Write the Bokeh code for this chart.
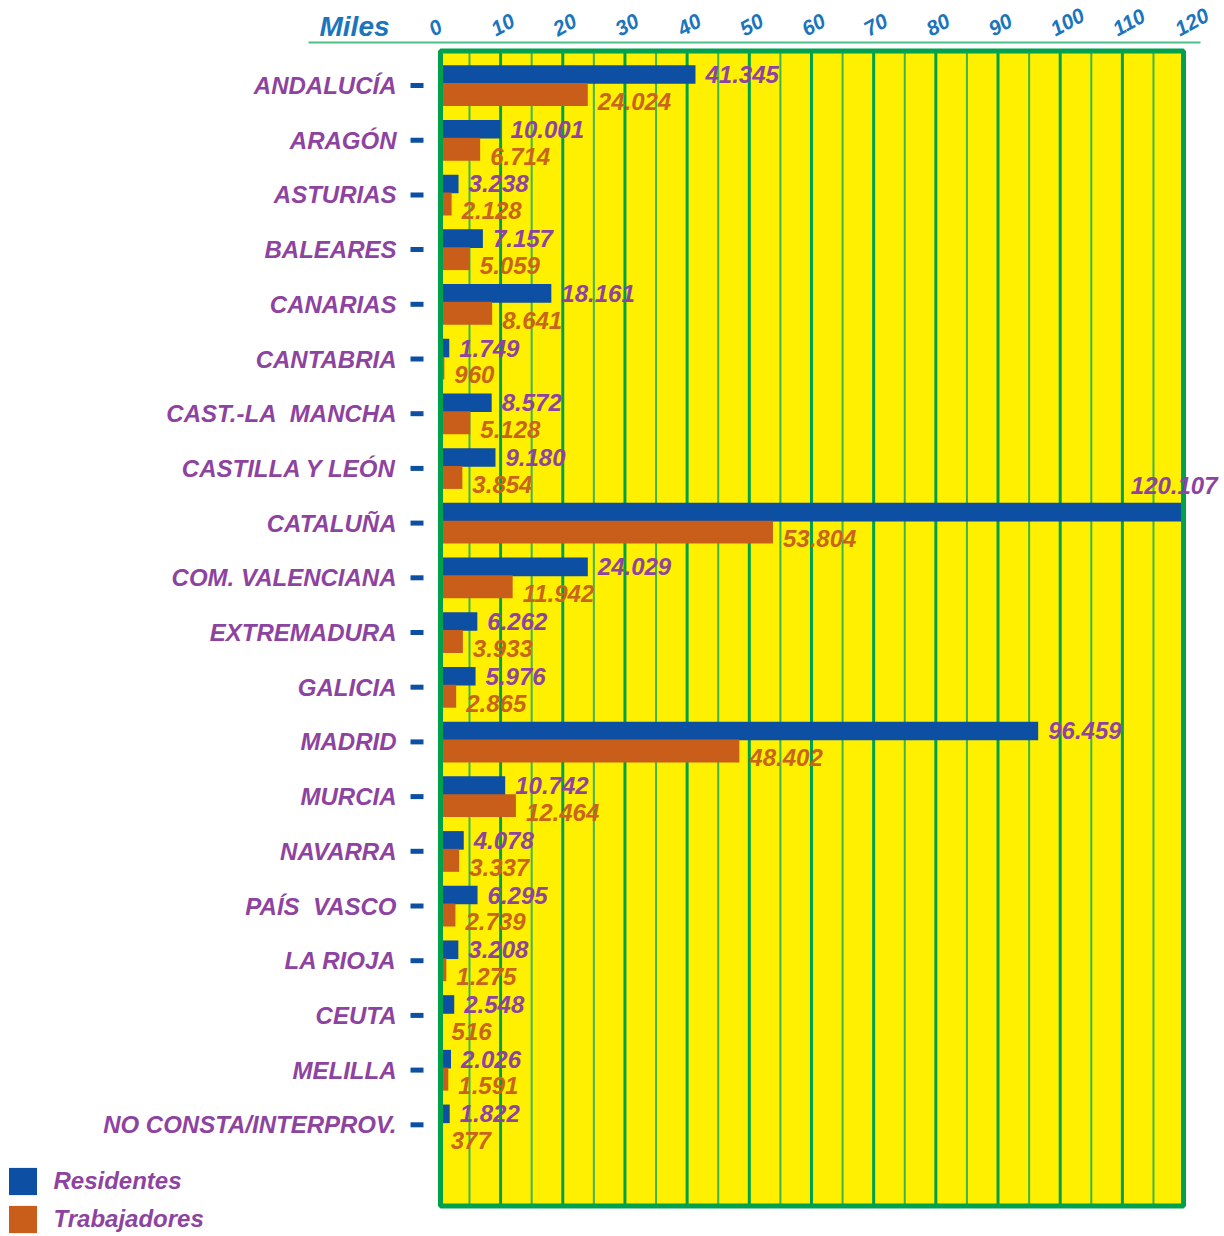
from bokeh.plotting import figure
from bokeh.models import Range1d, ColumnDataSource, Legend, LegendItem
from bokeh.core.properties import value
from bokeh.embed import file_html
from bokeh.resources import INLINE

# ---------------- data ----------------
regions = ["ANDALUCÍA", "ARAGÓN", "ASTURIAS", "BALEARES", "CANARIAS", "CANTABRIA",
           "CAST.-LA\u00a0\u00a0MANCHA", "CASTILLA Y LEÓN", "CATALUÑA", "COM. VALENCIANA",
           "EXTREMADURA", "GALICIA", "MADRID", "MURCIA", "NAVARRA", "PAÍS\u00a0\u00a0VASCO",
           "LA RIOJA", "CEUTA", "MELILLA", "NO CONSTA/INTERPROV."]
residentes = [41345, 10001, 3238, 7157, 18161, 1749, 8572, 9180, 120107, 24029,
              6262, 5976, 96459, 10742, 4078, 6295, 3208, 2548, 2026, 1822]
trabajadores = [24024, 6714, 2128, 5059, 8641, 960, 5128, 3854, 53804, 11942,
                3933, 2865, 48402, 12464, 3337, 2739, 1275, 516, 1591, 377]
x_ticks = [0, 10, 20, 30, 40, 50, 60, 70, 80, 90, 100, 110, 120]
series_names = ["Residentes", "Trabajadores"]
axis_title = "Miles"

# ---------------- style ----------------
FONT = value("Liberation Sans")
BLUE = "#0D4FA2"
ORANGE = "#C85E1A"
YELLOW = "#FFF000"
PURPLE = "#8D43A0"
ORANGE_TXT = "#C8641C"
AXIS_BLUE = "#1B75BC"
DARK_GREEN = "#00A14B"
LIGHT_GREEN = "#3DB54A"
LINE_GREEN = "#4DBF86"

W, H = 1224, 1236
X_PX0, X_SCALE = 437.9, 6.218      # pixel of value 0, pixels per thousand
Y_PX0, Y_SCALE = 85.0, 54.7        # pixel of first row, pixels per row
X_MAX = x_ticks[-1]


def px_to_x(px):
    return (px - X_PX0) / X_SCALE


def px_to_y(py):
    return (py - Y_PX0) / Y_SCALE


def fmt(n):
    return f"{n:,}".replace(",", ".")


idx = list(range(len(regions)))
res_k = [v / 1000 for v in residentes]
tra_k = [v / 1000 for v in trabajadores]

p = figure(width=W, height=H, output_backend="svg", toolbar_location=None,
           x_range=Range1d(px_to_x(0), px_to_x(W)),
           y_range=Range1d(px_to_y(H), px_to_y(0)),
           min_border=0, min_border_left=0, min_border_right=0,
           min_border_top=0, min_border_bottom=0)
p.xaxis.visible = False
p.yaxis.visible = False
p.grid.visible = False
p.outline_line_color = None
p.background_fill_color = "white"
p.border_fill_color = "white"

# plot panel
P_LEFT, P_RIGHT = px_to_x(440), px_to_x(1183)
P_TOP, P_BOTTOM = px_to_y(50.5), px_to_y(1205.5)
p.quad(left=[P_LEFT], right=[P_RIGHT], top=[P_TOP], bottom=[P_BOTTOM],
       fill_color=YELLOW, line_color=None)

# grid lines: thick at tens, thin at fives
thick = x_ticks[1:-1]
thin_ = [t + 5 for t in x_ticks[:-1]]
p.segment(x0=thin_, x1=thin_, y0=[P_TOP] * len(thin_), y1=[P_BOTTOM] * len(thin_),
          line_color=LIGHT_GREEN, line_width=2)
p.segment(x0=thick, x1=thick, y0=[P_TOP] * len(thick), y1=[P_BOTTOM] * len(thick),
          line_color=DARK_GREEN, line_width=3)

# bars
src = ColumnDataSource(dict(
    y_res=[i - 0.2 for i in idx],
    y_tra=[i + 0.165 for i in idx],
    res=res_k, tra=tra_k,
))
r_res = p.hbar(y="y_res", left=0, right="res", height=0.34, fill_color=BLUE,
               line_color=None, source=src)
r_tra = p.hbar(y="y_tra", left=0, right="tra", height=0.42, fill_color=ORANGE,
               line_color=None, source=src)

# panel border on top of bars
p.quad(left=[P_LEFT], right=[P_RIGHT], top=[P_TOP], bottom=[P_BOTTOM],
       fill_color=None, line_color=DARK_GREEN, line_width=5)

# value labels
common = dict(text_font=FONT, text_font_style="bold italic",
              text_font_size="24px", text_baseline="middle")
in_res = [i for i in idx if res_k[i] <= X_MAX]
out_res = [i for i in idx if res_k[i] > X_MAX]
p.text(x=[res_k[i] for i in in_res], y=[i - 0.2 for i in in_res],
       text=[fmt(residentes[i]) for i in in_res], x_offset=10,
       text_align="left", text_color=PURPLE, **common)
p.text(x=[X_MAX for i in out_res], y=[i - 0.69 for i in out_res],
       text=[fmt(residentes[i]) for i in out_res], x_offset=33,
       text_align="right", text_color=PURPLE, **common)
p.text(x=tra_k, y=[i + 0.29 for i in idx], text=[fmt(v) for v in trabajadores],
       x_offset=10, text_align="left", text_color=ORANGE_TXT, **common)

# category axis: names and tick dashes
p.text(x=[px_to_x(396)] * len(idx), y=idx, text=regions, text_align="right",
       text_color=PURPLE, **common)
p.segment(x0=[px_to_x(410)] * len(idx), x1=[px_to_x(423)] * len(idx), y0=idx, y1=idx,
          line_color=BLUE, line_width=5)

# value axis on top
p.segment(x0=[px_to_x(308)], x1=[px_to_x(1200)], y0=[px_to_y(42)], y1=[px_to_y(42)],
          line_color=LINE_GREEN, line_width=2)
p.text(x=x_ticks, y=[px_to_y(30)] * len(x_ticks), text=[str(t) for t in x_ticks],
       x_offset=-8, angle=0.5, text_align="left", text_baseline="middle",
       text_font=FONT, text_font_style="bold italic", text_font_size="21px",
       text_color=AXIS_BLUE)
p.text(x=[px_to_x(319)], y=[px_to_y(25.5)], text=[axis_title], text_align="left",
       text_baseline="middle", text_font=FONT, text_font_style="bold italic",
       text_font_size="28px", text_color=AXIS_BLUE)

legend = Legend(items=[LegendItem(label=series_names[0], renderers=[r_res]),
                       LegendItem(label=series_names[1], renderers=[r_tra])],
                location=(4.5, 0), orientation="vertical",
                glyph_width=35, glyph_height=34, label_height=34, spacing=4,
                label_standoff=14, padding=0, margin=0,
                background_fill_alpha=0, border_line_alpha=0,
                label_text_font="Liberation Sans", label_text_font_style="bold italic",
                label_text_font_size="24px", label_text_color=PURPLE)
p.add_layout(legend)

open("out.html", "w").write(file_html(p, INLINE))
